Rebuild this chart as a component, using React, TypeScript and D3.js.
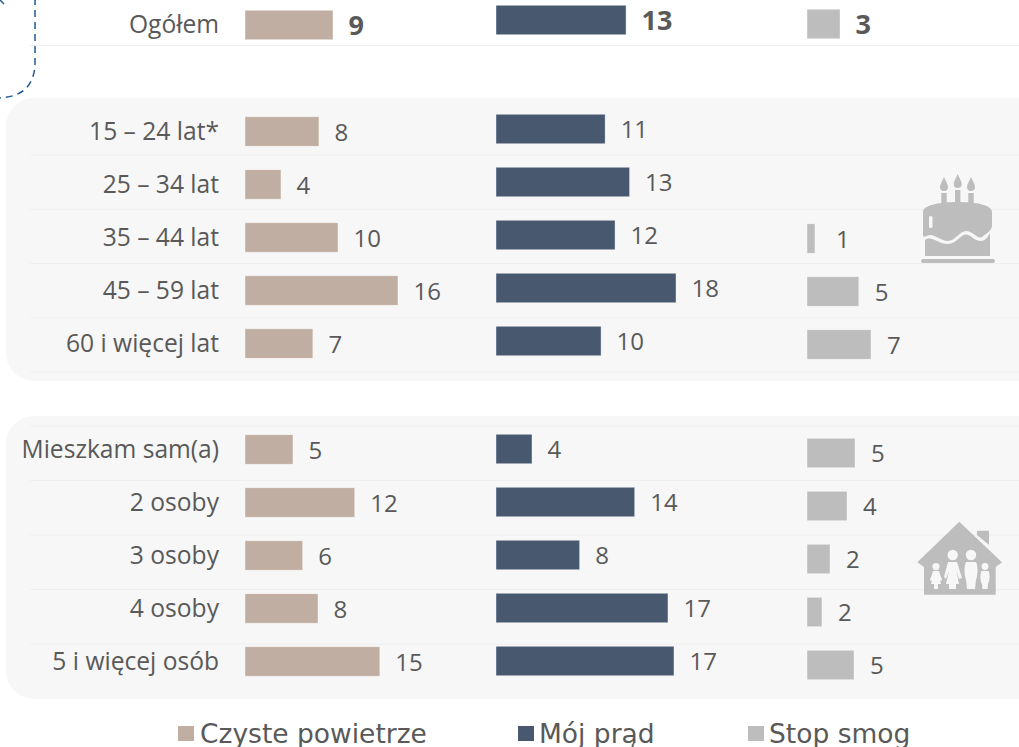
import React from "react";
import * as d3 from "d3";

const totalLabel = ["Ogółem"];
const ageLabels = ["15 – 24 lat*", "25 – 34 lat", "35 – 44 lat", "45 – 59 lat", "60 i więcej lat"];
const houseLabels = ["Mieszkam sam(a)", "2 osoby", "3 osoby", "4 osoby", "5 i więcej osób"];

const airTotal = [9.46];
const powerTotal = [12.75];
const smogTotal = [3.44];

const airAge = [7.95, 3.87, 10.0, 16.45, 7.3];
const powerAge = [10.7, 13.1, 11.67, 17.65, 10.3];
const smogAge = [null, null, 0.83, 5.4, 6.67];

const airHouse = [5.16, 11.8, 6.2, 7.85, 14.5];
const powerHouse = [3.53, 13.6, 8.2, 16.86, 17.45];
const smogHouse = [5.0, 4.17, 2.4, 1.56, 4.9];

const airTotalText = ["9"];
const powerTotalText = ["13"];
const smogTotalText = ["3"];
const airAgeText = ["8", "4", "10", "16", "7"];
const powerAgeText = ["11", "13", "12", "18", "10"];
const smogAgeText = ["", "", "1", "5", "7"];
const airHouseText = ["5", "12", "6", "8", "15"];
const powerHouseText = ["4", "14", "8", "17", "17"];
const smogHouseText = ["5", "4", "2", "2", "5"];

const legendNames = ["Czyste powietrze", "Mój prąd", "Stop smog"];

const TAN = "#c1aea2";
const NAVY = "#47586f";
const GREY = "#bdbdbd";
const TEXT = "#595959";
const GRID = "#efefef";
const PANEL = "#f7f7f7";
const LABEL_FONT = "'Open Sans', sans-serif";

const xAir = d3.scaleLinear().domain([0, 20]).range([245, 431]);
const xPower = d3.scaleLinear().domain([0, 20]).range([496, 700]);
const xSmog = d3.scaleLinear().domain([0, 10]).range([807, 903]);

const rowsTotal = d3.scaleBand<number>().domain([0]).range([-2, 51]);
const rowsAge = d3.scaleBand<number>().domain([0, 1, 2, 3, 4]).range([105, 370]);
const rowsHouse = d3.scaleBand<number>().domain([0, 1, 2, 3, 4]).range([423, 688]);

const gridAge = d3.scaleLinear().domain([0, 4]).range([155, 372]);
const gridHouse = d3.scaleLinear().domain([0, 4]).range([426, 644]);

const BAR_H = 29.5;

function Bars({ values, texts, x, rows, dy, color, bold, labelGap = 15.5, textDy = 9 }: any) {
  return (
    <g>
      {values.map((v: number | null, i: number) => {
        if (v === null) return null;
        const cy = rows(i)! + rows.bandwidth() / 2 + dy;
        const x0 = x(0);
        const gap = texts[i] === "1" ? labelGap + 5 : labelGap;
        return (
          <g key={i}>
            <rect x={x0} y={cy - BAR_H / 2} width={x(v) - x0} height={BAR_H} fill={color} stroke="#ffffff" strokeOpacity={0.55} strokeWidth={0.75} />
            <text
              x={x(v) + gap}
              y={cy + textDy}
              fill={TEXT}
              fontFamily={LABEL_FONT}
              fontSize={bold ? 27 : 24}
              fontWeight={bold ? 700 : 400}
            >
              {texts[i]}
            </text>
          </g>
        );
      })}
    </g>
  );
}

function Labels({ labels, rows }: any) {
  return (
    <g>
      {labels.map((t: string, i: number) => (
        <text
          key={t}
          x={219}
          y={rows(i)! + rows.bandwidth() / 2 + 8.5}
          textAnchor="end"
          fill={TEXT}
          fontFamily={LABEL_FONT}
          fontSize={24.6}
        >
          {t}
        </text>
      ))}
    </g>
  );
}

function GridLines({ scale }: any) {
  return (
    <g>
      {d3.range(5).map((i: number) => (
        <line key={i} x1={30} x2={1019} y1={scale(i)} y2={scale(i)} stroke={GRID} strokeWidth={1.2} />
      ))}
    </g>
  );
}

function Cake() {
  return (
    <g fill={GREY}>
      {[944, 957.7, 971].map((cx) => (
        <g key={cx}>
          <path d={`M${cx} ${cx === 957.7 ? 174 : 177} C${cx + 1.5} ${cx === 957.7 ? 178 : 181} ${cx + 4} ${cx === 957.7 ? 181 : 184} ${cx + 4} ${cx === 957.7 ? 184 : 187} A4 4 0 0 1 ${cx - 4} ${cx === 957.7 ? 184 : 187} C${cx - 4} ${cx === 957.7 ? 181 : 184} ${cx - 1.5} ${cx === 957.7 ? 178 : 181} ${cx} ${cx === 957.7 ? 174 : 177}Z`} />
          <rect x={cx - 2.7} y={cx === 957.7 ? 190 : 193} width={5.4} height={15} />
        </g>
      ))}
      <path d="M923 212 C923 205 940 202 958 202 C976 202 992 205 992 212 L992 226 C992 230 986 234 982 237 C978 240 973 231 966 231 C960 231 955 241 948 241 C941 241 936 235 930 235 C927 235 925 238 923 236 Z" />
      <path d="M925 240 C929 237 932 239 937 241 C942 243.500 946 244.500 951 243.500 C957 242 961 234.500 966 234.500 C971 234.500 974 241 981 241 C985 241 988 237 990 233 L990 256 L925 256 Z" />
      <rect x={921} y={259} width={74} height={4} rx={2} />
      <rect x={929} y={216} width={3.5} height={12} rx={1.500} fill={PANEL} />
    </g>
  );
}

function House() {
  return (
    <g>
      <path fill={GREY} d="M977 530.700 L989 530.700 L989 545 L977 535 Z" />
      <path fill={GREY} d="M959.300 521.700 L1002 562.300 L995.700 567 L995.700 594.700 L924 594.700 L924 567 L917.300 562.300 Z" />
      <g fill={PANEL}>
        <circle cx={952.700} cy={555} r={5.200} />
        <circle cx={971} cy={555} r={5.200} />
        <circle cx={936} cy={566.500} r={3.600} />
        <circle cx={985} cy={566.500} r={3.400} />
        <path d="M948 562 L957 562 L962 578 L959 579 L956.500 571 L959 584 L956 584 L956 589 L949 589 L949 584 L946 584 L949 571 L946 579 L944 577 Z" />
        <path d="M966 562 L976 562 C978 565 978 575 976 580 L975 589 L967 589 L966 580 C964 575 964 565 966 562 Z" />
        <path d="M933 571 L939 571 L942 580 L940 581 L939 577 L941 584 L938 584 L938 589 L934 589 L934 584 L931 584 L933 577 L932 581 L930 580 Z" />
        <path d="M981.500 571 L988.500 571 C990 574 990 581 988 584 L987.500 589 L982.500 589 L982 584 C980 581 980 574 981.500 571 Z" />
      </g>
    </g>
  );
}

export default function App() {
  const legendX = [178, 518, 748];
  const legendTextX = [200, 539, 769];
  const legendColors = [TAN, NAVY, GREY];
  return (
    <svg width={1019} height={747} viewBox="0 0 1019 747" style={{ position: "absolute", left: 0, top: 0, background: "#fff" }}>
      <path d="M35 -2 L35 62 Q35 97 -2 98" fill="none" stroke="#1f5a94" strokeWidth={1.5} strokeDasharray="7 5" />
      <path d="M0 0 L4 4" fill="none" stroke="#1f5a94" strokeWidth={1.5} />

      <rect x={6} y={98} width={1040} height={283} rx={28} fill={PANEL} />
      <rect x={6} y={416} width={1040} height={283} rx={28} fill={PANEL} />

      <line x1={30} x2={1019} y1={45.5} y2={45.5} stroke={GRID} strokeWidth={1.2} />
      <GridLines scale={gridAge} />
      <GridLines scale={gridHouse} />

      <Labels labels={totalLabel} rows={rowsTotal} />
      <Labels labels={ageLabels} rows={rowsAge} />
      <Labels labels={houseLabels} rows={rowsHouse} />

      <Bars values={airTotal} texts={airTotalText} x={xAir} rows={rowsTotal} dy={0.5} color={TAN} bold textDy={9.5} />
      <Bars values={powerTotal} texts={powerTotalText} x={xPower} rows={rowsTotal} dy={-4.5} color={NAVY} bold textDy={9.5} />
      <Bars values={smogTotal} texts={smogTotalText} x={xSmog} rows={rowsTotal} dy={-0.5} color={GREY} bold textDy={9.5} />

      <Bars values={airAge} texts={airAgeText} x={xAir} rows={rowsAge} dy={0} color={TAN} />
      <Bars values={powerAge} texts={powerAgeText} x={xPower} rows={rowsAge} dy={-2.5} color={NAVY} />
      <Bars values={smogAge} texts={smogAgeText} x={xSmog} rows={rowsAge} dy={1} color={GREY} labelGap={16} />

      <Bars values={airHouse} texts={airHouseText} x={xAir} rows={rowsHouse} dy={0} color={TAN} />
      <Bars values={powerHouse} texts={powerHouseText} x={xPower} rows={rowsHouse} dy={-0.5} color={NAVY} />
      <Bars values={smogHouse} texts={smogHouseText} x={xSmog} rows={rowsHouse} dy={3.5} color={GREY} labelGap={16} />

      <Cake />
      <House />

      {legendNames.map((name, i) => (
        <g key={name}>
          <rect x={legendX[i]} y={726} width={16} height={15} fill={legendColors[i]} />
          <text x={legendTextX[i]} y={743} fill={TEXT} fontFamily="'DejaVu Sans', sans-serif" fontSize={26.5}>
            {name}
          </text>
        </g>
      ))}
    </svg>
  );
}
